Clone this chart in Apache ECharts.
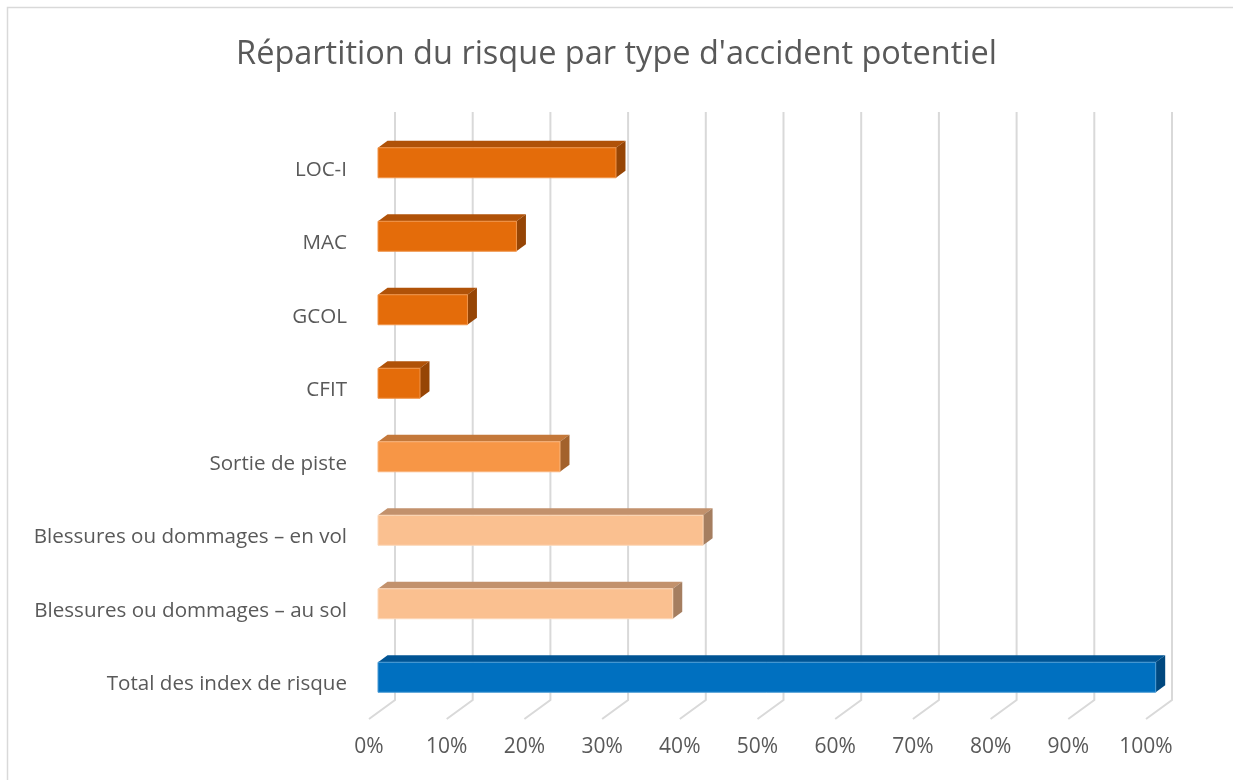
<!DOCTYPE html>
<html>
<head>
    <meta charset="UTF-8">
    <title>Répartition du risque par type d'accident potentiel</title>
    <style>
        html, body {
            margin: 0;
            padding: 0;
            width: 100%;
            height: 100%;
            overflow: hidden;
            background: #fff;
        }
        #main {
            width: 1233px;
            height: 780px;
        }
    </style>
    <script src="https://cdn.jsdelivr.net/npm/echarts@6/dist/echarts.min.js"></script>
</head>
<body>
    <div id="main"></div>

    <script>
        // Data
        const categories = [
            'LOC-I',
            'MAC',
            'GCOL',
            'CFIT',
            'Sortie de piste',
            'Blessures ou dommages – en vol',
            'Blessures ou dommages – au sol',
            'Total des index de risque'
        ];
        const riskShare = [30.6, 17.8, 11.5, 5.4, 23.4, 41.8, 37.9, 100];
        const tickValues = [0, 10, 20, 30, 40, 50, 60, 70, 80, 90, 100];

        // front / top / side / edge colours for each bar
        const palette = [
            ['#E46C0A', '#B05208', '#964505', '#F0944A'],
            ['#E46C0A', '#B05208', '#964505', '#F0944A'],
            ['#E46C0A', '#B05208', '#964505', '#F0944A'],
            ['#E46C0A', '#B05208', '#964505', '#F0944A'],
            ['#F79646', '#C4783A', '#A3622C', '#FAB57C'],
            ['#FAC090', '#C2916C', '#A57E60', '#FCD7B8'],
            ['#FAC090', '#C2916C', '#A57E60', '#FCD7B8'],
            ['#0070C0', '#005494', '#00487F', '#4A9AD4']
        ];

        const FONT = '"Open Sans", sans-serif';
        const TEXT = '#595959';
        const DEPTH_X = 9.5, DEPTH_Y = 7;     // bar depth
        const FLOOR_X = 26, FLOOR_Y = 19;     // wall to front of floor

        const chart = echarts.init(document.getElementById('main'));

        function renderBar(params, api) {
            const i = api.value(0);
            const v = api.value(1);
            const start = api.coord([0, i]);
            const end = api.coord([v, i]);
            const cy = start[1] - 7;
            const h = 30;
            const x0 = start[0], x1 = end[0];
            const y0 = cy - h / 2, y1 = cy + h / 2;
            const c = palette[i];
            return {
                type: 'group',
                children: [
                    {
                        type: 'polygon',
                        shape: { points: [[x0, y0], [x0 + DEPTH_X, y0 - DEPTH_Y], [x1 + DEPTH_X, y0 - DEPTH_Y], [x1, y0]] },
                        style: { fill: c[1] }
                    },
                    {
                        type: 'polygon',
                        shape: { points: [[x1, y0], [x1 + DEPTH_X, y0 - DEPTH_Y], [x1 + DEPTH_X, y1 - DEPTH_Y], [x1, y1]] },
                        style: { fill: c[2] }
                    },
                    {
                        type: 'rect',
                        shape: { x: x0, y: y0, width: x1 - x0, height: h },
                        style: { fill: c[0], stroke: c[3], lineWidth: 1 }
                    }
                ]
            };
        }

        function renderGridLine(params, api) {
            const v = api.value(0);
            const top = api.coord([v, 1]);
            const bottom = api.coord([v, 0]);
            return {
                type: 'polyline',
                shape: { points: [top, bottom, [bottom[0] - FLOOR_X, bottom[1] + FLOOR_Y]] },
                style: { stroke: '#d9d9d9', lineWidth: 2, fill: null }
            };
        }

        const option = {
            animation: false,
            title: {
                text: "Répartition du risque par type d'accident potentiel",
                left: 'center',
                top: 33,
                textStyle: { fontFamily: FONT, fontWeight: 'normal', fontSize: 32.5, color: TEXT }
            },
            graphic: [{
                type: 'rect',
                shape: { x: 7.5, y: 7.5, width: 1240, height: 790 },
                style: { fill: null, stroke: '#d9d9d9', lineWidth: 1.5 },
                silent: true
            }],
            grid: [
                { left: 378, top: 133, width: 777.7, height: 588 },   // bars
                { left: 395, top: 112, width: 777, height: 588 },     // back wall
                { left: 369, top: 719, width: 777, height: 1 }        // front of floor
            ],
            xAxis: [
                { type: 'value', gridIndex: 0, min: 0, max: 100, show: false },
                { type: 'value', gridIndex: 1, min: 0, max: 100, show: false },
                {
                    type: 'value', gridIndex: 2, min: 0, max: 100, interval: 10,
                    axisLine: { show: false }, axisTick: { show: false }, splitLine: { show: false },
                    axisLabel: { formatter: '{value}%', margin: 17, fontFamily: FONT, fontSize: 21, color: TEXT }
                }
            ],
            yAxis: [
                {
                    type: 'category', gridIndex: 0, data: categories, inverse: true,
                    axisLine: { show: false }, axisTick: { show: false }, splitLine: { show: false },
                    axisLabel: { margin: 31, fontFamily: FONT, fontSize: 20.6, color: TEXT }
                },
                { type: 'value', gridIndex: 1, min: 0, max: 1, show: false },
                { type: 'value', gridIndex: 2, min: 0, max: 1, show: false }
            ],
            series: [
                {
                    type: 'custom',
                    xAxisIndex: 1,
                    yAxisIndex: 1,
                    renderItem: renderGridLine,
                    data: tickValues.map(v => [v]),
                    z: 1,
                    silent: true
                },
                {
                    type: 'custom',
                    xAxisIndex: 0,
                    yAxisIndex: 0,
                    renderItem: renderBar,
                    data: riskShare.map((v, i) => [i, v]),
                    z: 2
                }
            ]
        };

        chart.setOption(option);
    </script>
</body>
</html>
